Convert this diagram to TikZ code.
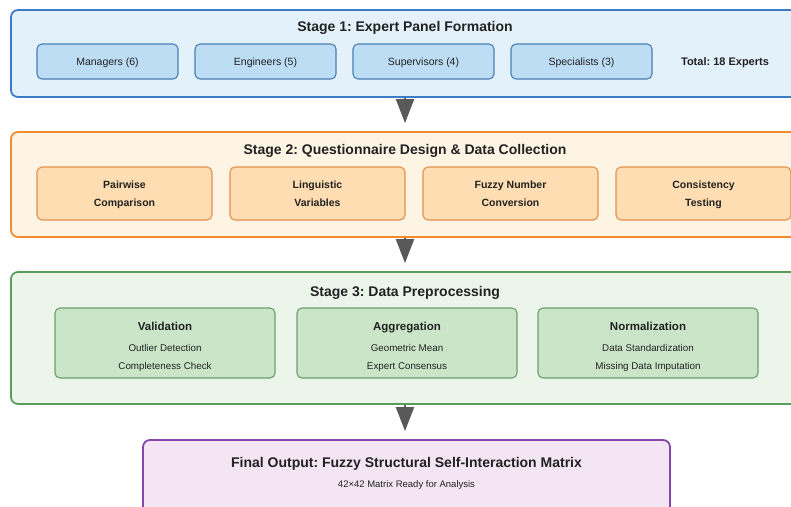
\documentclass[tikz,border=0pt]{standalone}
\usepackage{fontspec}
\setmainfont{Liberation Sans}
\usetikzlibrary{arrows.meta}

\definecolor{sOneFill}{HTML}{E3F1FB}
\definecolor{sOneLine}{HTML}{3D7CC4}
\definecolor{subOneFill}{HTML}{BDDDF4}
\definecolor{subOneLine}{HTML}{4A7FB2}
\definecolor{sTwoFill}{HTML}{FEF4E4}
\definecolor{sTwoLine}{HTML}{F28A2E}
\definecolor{subTwoFill}{HTML}{FDDDB1}
\definecolor{subTwoLine}{HTML}{E5904C}
\definecolor{sThreeFill}{HTML}{EBF5EA}
\definecolor{sThreeLine}{HTML}{5A9C5A}
\definecolor{subThreeFill}{HTML}{CAE5C8}
\definecolor{subThreeLine}{HTML}{6E9E6E}
\definecolor{finFill}{HTML}{F3E5F3}
\definecolor{finLine}{HTML}{8646AE}
\definecolor{flowGray}{HTML}{595959}
\definecolor{ink}{HTML}{222222}

\frenchspacing
\begin{document}
\begin{tikzpicture}[x=1pt,y=-1pt,
  stagebox/.style={draw, rounded corners=7pt, line width=1.8pt, inner sep=0pt},
  subbox/.style={draw, rounded corners=5pt, line width=1.1pt, inner sep=0pt},
  stagetitle/.style={text=ink, font=\bfseries\fontsize{14}{16}\selectfont, inner sep=0pt,
    text height=10pt, text depth=0pt},
  memberbox/.style={subbox, fill=subOneFill, draw=subOneLine, minimum width=141pt, minimum height=35pt,
    text=ink, font=\fontsize{10.5}{12}\selectfont, text height=7.5pt, text depth=0pt},
  taskbox/.style={subbox, fill=subTwoFill, draw=subTwoLine, minimum width=175pt, minimum height=53pt,
    text=ink, align=center, font=\bfseries\fontsize{10.5}{18}\selectfont, text height=25.5pt, text depth=0pt},
  prepbox/.style={subbox, fill=subThreeFill, draw=subThreeLine, minimum width=220pt, minimum height=70pt},
  preptitle/.style={text=ink, font=\bfseries\fontsize{11.5}{14}\selectfont, inner sep=0pt,
    text height=8.2pt, text depth=0pt},
  preplines/.style={text=ink, align=center, font=\fontsize{9.8}{18}\selectfont, inner sep=0pt,
    text height=25pt, text depth=0pt},
  flow/.style={draw=flowGray, line width=2pt, -{Triangle[width=18pt,length=24pt]}, shorten >=8pt}
]
\fill[white] (0,0) rectangle (791,506);
\useasboundingbox (0,0) rectangle (791,506);
\clip (0,0) rectangle (791,506);

% Stage 1: expert panel
\node[stagebox, fill=sOneFill, draw=sOneLine, minimum width=800pt, minimum height=87pt] (s1) at (411,53.5) {};
\node[stagetitle] (t1) at (405,26) {Stage 1: Expert Panel Formation};
\node[memberbox] (m1) at (107.5,61.5) {Managers (6)};
\node[memberbox] (m2) at (265.5,61.5) {Engineers (5)};
\node[memberbox] (m3) at (423.5,61.5) {Supervisors (4)};
\node[memberbox] (m4) at (581.5,61.5) {Specialists (3)};
\node[text=ink, font=\bfseries\fontsize{11}{13}\selectfont, inner sep=0pt, text height=7.9pt, text depth=0pt]
  (total) at (725,62) {Total: 18 Experts};

% Stage 2: questionnaire
\node[stagebox, fill=sTwoFill, draw=sTwoLine, minimum width=800pt, minimum height=105pt] (s2) at (411,184.5) {};
\node[stagetitle] (t2) at (405,149) {Stage 2: Questionnaire Design \& Data Collection};
\node[taskbox] (q1) at (124.5,193.5) {Pairwise\\Comparison};
\node[taskbox] (q2) at (317.5,193.5) {Linguistic\\Variables};
\node[taskbox] (q3) at (510.5,193.5) {Fuzzy Number\\Conversion};
\node[taskbox] (q4) at (703.5,193.5) {Consistency\\Testing};

% Stage 3: preprocessing
\node[stagebox, fill=sThreeFill, draw=sThreeLine, minimum width=800pt, minimum height=132pt] (s3) at (411,338) {};
\node[stagetitle] (t3) at (405,291) {Stage 3: Data Preprocessing};
\node[prepbox] (p1) at (165,343) {};
\node[prepbox] (p2) at (407,343) {};
\node[prepbox] (p3) at (648,343) {};
\node[preptitle] (p1t) at (165,326) {Validation};
\node[preptitle] (p2t) at (407,326) {Aggregation};
\node[preptitle] (p3t) at (648,326) {Normalization};
\node[preplines] (p1l) at (165,357) {Outlier Detection\\Completeness Check};
\node[preplines] (p2l) at (407,357) {Geometric Mean\\Expert Consensus};
\node[preplines] (p3l) at (648,357) {Data Standardization\\Missing Data Imputation};

% Final output
\node[stagebox, fill=finFill, draw=finLine, minimum width=527pt, minimum height=80pt] (fin) at (406.5,480) {};
\node[stagetitle] (ft) at (406.5,462) {Final Output: Fuzzy Structural Self-Interaction Matrix};
\node[text=ink, font=\fontsize{9.5}{11}\selectfont, inner sep=0pt, text height=6.8pt, text depth=0pt]
  (fs) at (406.5,484) {42×42 Matrix Ready for Analysis};

% Flow arrows between stages
\draw[flow] (s1.south -| t1) -- (s2.north -| t1);
\draw[flow] (s2.south -| t1) -- (s3.north -| t1);
\draw[flow] (s3.south -| t1) -- (fin.north -| t1);
\end{tikzpicture}
\end{document}
